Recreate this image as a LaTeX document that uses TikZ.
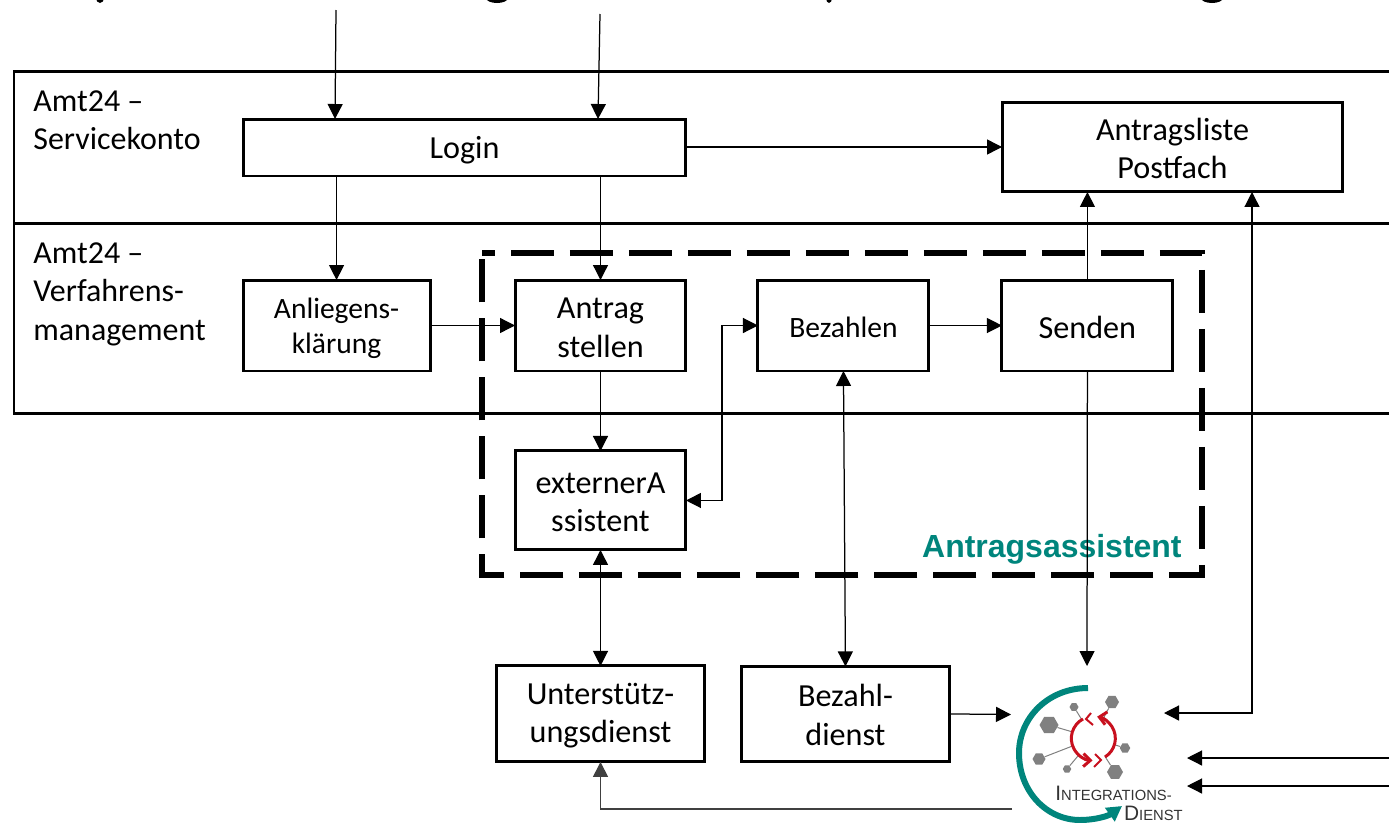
\documentclass[tikz,border=0pt]{standalone}
\usepackage{fontspec}
\setmainfont{Carlito}
\newfontfamily\logofont{Liberation Sans}
\usetikzlibrary{arrows.meta,calc,positioning,shapes.geometric}
\definecolor{tealgreen}{RGB}{0,133,124}
\definecolor{logored}{RGB}{200,16,30}
\tikzset{
  >={Triangle[length=0.3cm,width=0.3cm]},
  box/.style={rectangle, draw, line width=0.06cm, outer sep=0pt, inner sep=0pt, align=center, text height=36pt, font=\fontsize{18.3}{21.9}\selectfont},
  oneline/.style={box, text height=15pt},
  smallbox/.style={box, text height=15pt, font=\fontsize{16.8}{19.6}\selectfont},
  lanelabel/.style={anchor=north west, align=left, inner sep=0pt, font=\fontsize{18.2}{22}\selectfont},
  lane/.style={line width=0.06cm},
  flow/.style={line width=0.025cm},
  hexa/.style={regular polygon, regular polygon sides=6, fill=gray, inner sep=0pt},
  logotext/.style={anchor=base east, inner sep=0pt, text=black!80, font=\logofont\fontsize{8.4}{10}\selectfont},
}
\begin{document}
\begin{tikzpicture}[x=0.02cm,y=-0.02cm]
  \clip (0,0) rectangle (1389,822);
  % cut off title at the upper edge
  \foreach \tx/\trx in {100/4, 497/11, 829/3, 1212/11}
    \fill (\tx,-2) ellipse [x radius=\trx, y radius=5];
  % lanes
  \draw[lane] (1389,71) -- (14,71) -- (14,413) -- (1389,413);
  \draw[lane] (14,223) -- (1389,223);
  \node(servicekonto) [lanelabel] at (33,90) {Amt24 --\\Servicekonto};
  \node(verfahren) [lanelabel] at (33,242) {Amt24 --\\Verfahrens-\\management};
  % Antragsassistent frame
  \draw[line width=0.115cm, dash pattern=on 0.86cm off 0.32cm, dash phase=0.6cm]
    (482,253) -- (1202,253) -- (1202,575) -- (482,575) -- cycle;
  \node(assistent) [anchor=base east, inner sep=0pt, text=tealgreen, font=\logofont\bfseries\fontsize{18.2}{21}\selectfont] at (1182,557) {Antragsassistent};
  % boxes
  \node(antrag) [box, minimum width=3.42cm, minimum height=1.82cm] at (600.5,325.5) {Antrag\\stellen};
  \node(bezahlen) [smallbox, text depth=1pt, minimum width=3.42cm, minimum height=1.82cm, right=1.44cm of antrag] {Bezahlen};
  \node(senden) [oneline, minimum width=3.42cm, minimum height=1.82cm, right=1.46cm of bezahlen] {Senden};
  \node(anliegen) [smallbox, text height=34.5pt, minimum width=3.74cm, minimum height=1.82cm, left=1.7cm of antrag] {Anliegens-\\klärung};
  \node(extern) [box, minimum width=3.42cm, minimum height=1.98cm, below=1.6cm of antrag] {externerA\\ssistent};
  \node(login) [oneline, text depth=2.5pt, minimum width=8.86cm, minimum height=1.14cm] at (464.5,147.5) {Login};
  \node(postfach) [box, minimum width=6.82cm, minimum height=1.8cm] at (1172.5,147) {Antragsliste\\Postfach};
  \node(support) [box, minimum width=4.16cm, minimum height=1.92cm, below=2.32cm of extern] {Unterstütz-\\ungsdienst};
  \node(dienst) [box, minimum width=4.16cm, minimum height=1.9cm, right=0.74cm of support] {Bezahl-\\dienst};
  % free ends
  \coordinate(einA) at (336,10);
  \coordinate(einB) at (600,14);
  \coordinate(idOben) at (1087,666);
  \coordinate(idLinks) at (1011,714.5);
  \coordinate(idRechts) at (1164,713);
  \coordinate(idAus) at (1012,809);
  \coordinate(randA) at (1389,758);
  \coordinate(idA) at (1187,758);
  \coordinate(randB) at (1389,786);
  \coordinate(idB) at (1187,786);
  % connectors
  \draw[->, flow] (einA) -- ($(login.north)+(-129.5,0)$);
  \draw[->, flow] (einB) -- ($(login.north)+(133.5,0)$);
  \draw[->, flow] (anliegen.north |- login.south) -- (anliegen.north);
  \draw[->, flow] (antrag.north |- login.south) -- (antrag.north);
  \draw[->, flow] (login.east |- postfach.west) -- (postfach.west);
  \draw[->, flow] (anliegen) -- (antrag);
  \draw[->, flow] (antrag) -- (extern);
  \draw[->, flow] (bezahlen) -- (senden);
  \draw[<->, flow] (extern.east) -- ++(36,0) |- (bezahlen.west);
  \draw[<->, flow] (bezahlen.south) -- (dienst.north);
  \draw[<->, flow] (extern) -- (support);
  \draw[->, flow] (senden.north) -- (senden.north |- postfach.south);
  \draw[->, flow] (senden.south) -- (idOben);
  \draw[<->, flow] (idRechts) -| ($(postfach.south)+(79.5,0)$);
  \draw[->, flow] (dienst.east) -- (idLinks);
  \draw[->, flow, black!75] (idAus) -| (support.south);
  \draw[->, flow] (randA) -- (idA);
  \draw[->, flow] (randB) -- (idB);
  % Integrationsdienst logo
  \draw[line width=0.12cm, tealgreen, -{Triangle[length=0.3cm,width=0.32cm]}] (1088,688) .. controls (1048,688) and (1019,718) .. (1019,753) .. controls (1019,792) and (1047,820) .. (1080,820) .. controls (1095,820) and (1108,816) .. (1122,806);
  \node(ring) [circle, minimum size=0.88cm, inner sep=0pt] at (1093,738) {};
  \foreach \i/\hx/\hy/\hd in {1/1049/725/19, 2/1112/702/14, 3/1074/707/9, 4/1039/759/13, 5/1067/769/8.5, 6/1115/772/16, 7/1125/748/10.5} {
    \node(hex\i) [hexa, minimum size=\hd*0.02cm] at (\hx,\hy) {};
    \draw[gray, line width=0.02cm] (hex\i) -- (ring);
  }
  \draw[logored, line width=0.06cm, -{Straight Barb[length=0.14cm,width=0.26cm]}] (1105,757) arc [start angle=58, end angle=-80, radius=22];
  \draw[logored, line width=0.06cm, -{Straight Barb[length=0.14cm,width=0.26cm]}] (1083,719) arc [start angle=242, end angle=92, radius=22];
  \draw[logored, line width=0.04cm] (1091,713) -- (1086,719) -- (1093,725);
  \draw[logored, line width=0.04cm] (1095,754) -- (1101,760) -- (1094,767);
  \node(integA) [logotext] at (1172,800) {{\fontsize{11.9}{10}\selectfont I}NTEGRATIONS-};
  \node(integB) [logotext] at (1183,820) {{\fontsize{11.9}{10}\selectfont D}IENST};
\end{tikzpicture}
\end{document}
